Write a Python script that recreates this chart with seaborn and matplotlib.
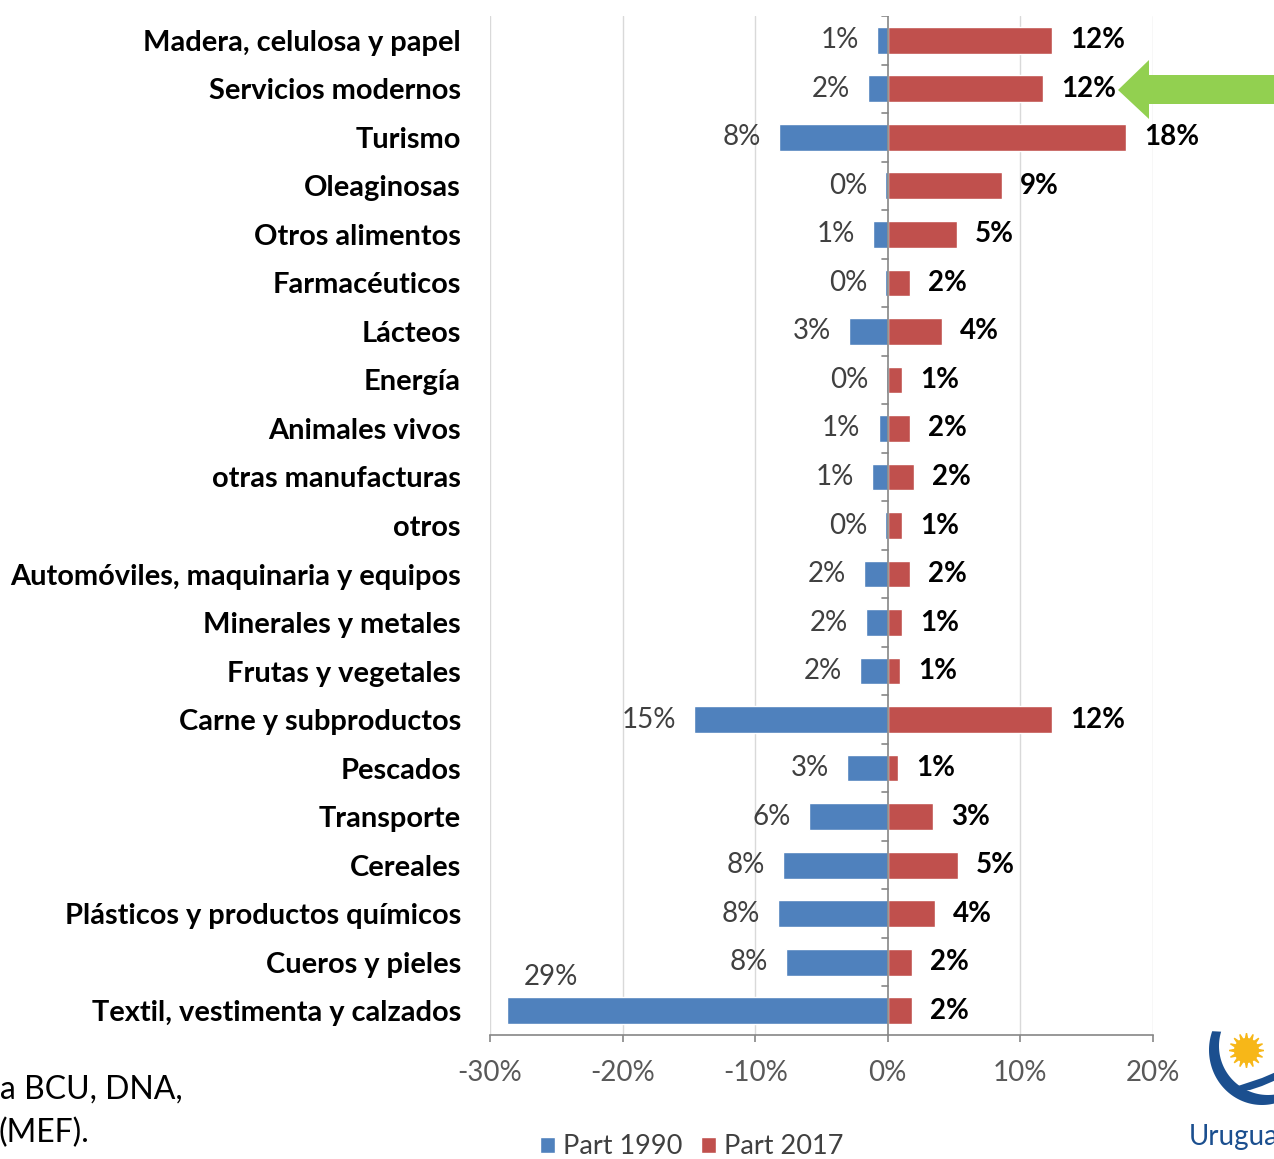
import matplotlib
matplotlib.use("Agg")
import matplotlib.pyplot as plt
import seaborn as sns
import pandas as pd
import numpy as np
from matplotlib.patches import Polygon, Patch

categories = [
    "Madera, celulosa y papel", "Servicios modernos", "Turismo", "Oleaginosas",
    "Otros alimentos", "Farmacéuticos", "Lácteos", "Energía", "Animales vivos",
    "otras manufacturas", "otros", "Automóviles, maquinaria y equipos",
    "Minerales y metales", "Frutas y vegetales", "Carne y subproductos",
    "Pescados", "Transporte", "Cereales", "Plásticos y productos químicos",
    "Cueros y pieles", "Textil, vestimenta y calzados",
]
part_1990 = [0.8, 1.5, 8.2, 0.2, 1.1, 0.2, 2.9, 0.1, 0.7, 1.2, 0.2,
             1.8, 1.65, 2.1, 14.6, 3.1, 5.95, 7.9, 8.3, 7.7, 28.7]
part_2017 = [12.4, 11.7, 18.0, 8.6, 5.2, 1.7, 4.1, 1.05, 1.65, 2.0, 1.05,
             1.7, 1.05, 0.9, 12.4, 0.75, 3.4, 5.3, 3.55, 1.8, 1.8]
x_ticks = [-30, -20, -10, 0, 10, 20]
x_tick_labels = ["-30%", "-20%", "-10%", "0%", "10%", "20%"]
legend_labels = ["Part 1990", "Part 2017"]

BLUE = "#4F81BD"
RED = "#C0504D"

sns.set_theme(style="white")
plt.rcParams['font.family'] = ['Lato', 'DejaVu Sans']

W_PX, H_PX = 1274, 1159
fig = plt.figure(figsize=(W_PX / 100, H_PX / 100), dpi=100)
ax = fig.add_axes([490 / W_PX, 1 - 1035 / H_PX, (1153 - 490) / W_PX, (1035 - 16) / H_PX])

df = pd.DataFrame({"cat": categories,
                   "p1990": [-v for v in part_1990],
                   "p2017": part_2017})
sns.barplot(data=df, x="p1990", y="cat", orient="h", color=BLUE, saturation=1,
            width=0.55, ax=ax, zorder=3)
sns.barplot(data=df, x="p2017", y="cat", orient="h", color=RED, saturation=1,
            width=0.55, ax=ax, zorder=3)

ax.set_xlim(-30, 20)
ax.set_ylim(len(categories) - 0.5, -0.5)
ax.set_xlabel("")
ax.set_ylabel("")

# gridlines
for t in x_ticks:
    if t != 0:
        ax.axvline(t, color="#D9D9D9", lw=1.0, zorder=1)
ax.axvline(0, color="#868686", lw=1.2, zorder=4)
# small tick marks on zero axis between categories
for i in range(len(categories)):
    ax.plot([-0.45, 0], [i - 0.5, i - 0.5], color="#868686", lw=1.2, zorder=4)

for s in ["top", "right", "left"]:
    ax.spines[s].set_visible(False)
ax.spines["bottom"].set_color("#868686")
ax.spines["bottom"].set_linewidth(1.2)

ax.set_xticks(x_ticks)
ax.set_xticklabels(x_tick_labels)
ax.tick_params(axis="x", bottom=True, length=5, width=1.2, color="#868686",
               pad=13, labelsize=20, labelcolor="#595959")
ax.tick_params(axis="y", left=False, length=0, pad=21, labelsize=20.9)
for lab in ax.get_yticklabels():
    lab.set_fontweight("bold")
    lab.set_color("black")

# value labels
for i, (a, b) in enumerate(zip(part_1990, part_2017)):
    if a > 25:
        ax.annotate(f"{a:.0f}%", xy=(-a, i), xytext=(12, 24), textcoords="offset points",
                    ha="left", va="center", fontsize=20, color="#404040")
    else:
        ax.annotate(f"{a:.0f}%", xy=(-a, i), xytext=(-13, 0), textcoords="offset points",
                    ha="right", va="center", fontsize=20, color="#404040")
    ax.annotate(f"{b:.0f}%", xy=(b, i), xytext=(13, 0), textcoords="offset points",
                ha="left", va="center", fontsize=20, color="black", fontweight="bold")

# legend
handles = [Patch(facecolor=BLUE), Patch(facecolor=RED)]
fig.legend(handles, legend_labels, loc="center", bbox_to_anchor=(692 / W_PX, 1 - 1147 / H_PX),
           ncol=2, frameon=False, fontsize=19.5, handlelength=0.55, handleheight=0.55,
           handletextpad=0.3, columnspacing=0.7, labelcolor="#404040")

# overlay in pixel coordinates for slide decorations
ov = fig.add_axes([0, 0, 1, 1], zorder=10)
ov.set_xlim(0, W_PX)
ov.set_ylim(H_PX, 0)
ov.axis("off")
ov.patch.set_alpha(0)

arrow = Polygon([(1118, 90), (1149, 60), (1149, 75), (1274, 75), (1274, 104),
                 (1149, 104), (1149, 119)], closed=True, facecolor="#92D050",
                edgecolor="none")
ov.add_patch(arrow)

ov.text(0, 1090, "a BCU, DNA,", fontsize=23, color="black", ha="left", va="center")
ov.text(-1, 1133, "(MEF).", fontsize=23, color="black", ha="left", va="center")

# logo fragment: crescent + inner arc + sun
LOGO_BLUE = "#1B4F8F"
ang_o = np.radians(np.linspace(160, 340, 80))
ang_i = np.radians(np.linspace(340, 163, 80))
outer = np.column_stack([1262 + 53 * np.cos(ang_o), 1050 - 55 * np.sin(ang_o)])
inner = np.column_stack([1268 + 49 * np.cos(ang_i), 1046 - 49 * np.sin(ang_i)])
ov.add_patch(Polygon(np.vstack([outer, inner]), closed=True, facecolor=LOGO_BLUE,
                     edgecolor="none", clip_on=True))
arc2 = [(1238, 1086), (1250, 1082), (1262, 1078), (1276, 1072),
        (1276, 1080), (1262, 1086), (1250, 1090), (1238, 1091)]
ov.add_patch(Polygon(arc2, closed=True, facecolor=LOGO_BLUE, edgecolor="none"))
ov.plot([1246], [1050], marker=(16, 1, 0), ms=25, color="#F7B718", mec="#F7B718")
ov.plot([1246], [1050], marker="o", ms=17, color="#F7B718", mec="#F7B718")
ov.text(1189, 1137, "Uruguay", fontsize=20, color=LOGO_BLUE, ha="left", va="center",
        clip_on=True)

fig.savefig("out.png", dpi=100)
